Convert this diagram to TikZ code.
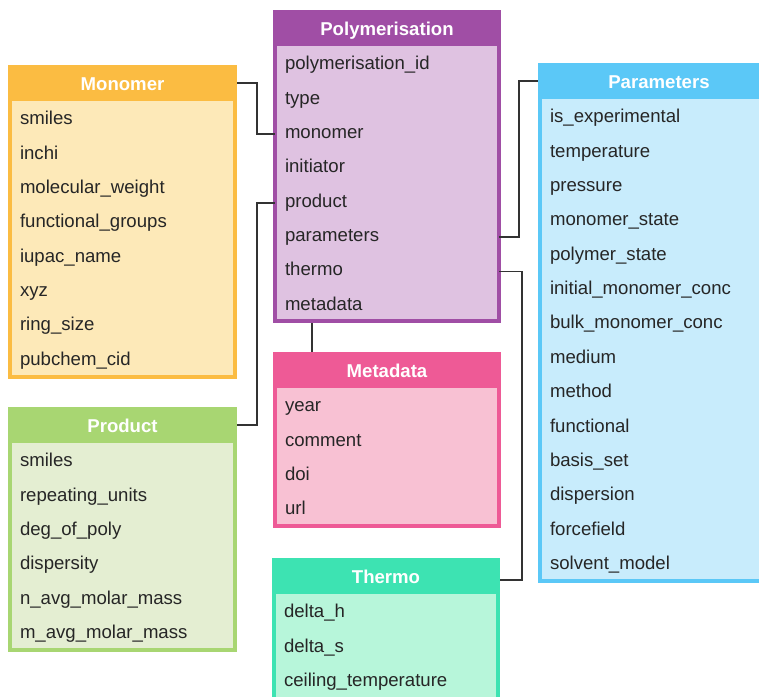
\documentclass[tikz,border=0pt]{standalone}
\usepackage{fontspec}
\setmainfont{Liberation Sans}
\usetikzlibrary{positioning}

\definecolor{monoC}{HTML}{FBBC42}
\definecolor{monoL}{HTML}{FDE9B8}
\definecolor{polyC}{HTML}{A04EA5}
\definecolor{polyL}{HTML}{DFC2E1}
\definecolor{parC}{HTML}{5BC8F7}
\definecolor{parL}{HTML}{C8ECFC}
\definecolor{prodC}{HTML}{A8D672}
\definecolor{prodL}{HTML}{E4EED2}
\definecolor{metaC}{HTML}{EE5A96}
\definecolor{metaL}{HTML}{F8C1D3}
\definecolor{thermoC}{HTML}{3DE3B2}
\definecolor{thermoL}{HTML}{B7F6DA}

\newcommand{\tabfont}{\fontsize{18.6}{22}\selectfont}

\tikzset{
  tbody/.style={draw=#1, line width=4pt, inner sep=0pt},
  thead/.style={draw=#1, fill=#1, line width=4pt, minimum height=32pt, inner sep=0pt,
    text height=14pt, text depth=0pt, text=white, font=\tabfont\bfseries},
  field/.style={anchor=north, inner xsep=10pt, inner ysep=0pt, minimum height=34.35pt,
    text height=13pt, text depth=4pt, align=left, text=black!85},
  link/.style={draw=black!80, line width=1.5pt}
}

\begin{document}
\begin{tikzpicture}[x=1pt,y=-1pt,font=\tabfont]
\clip (0,0) rectangle (759,696);
\fill[white] (0,0) rectangle (759,696);

% Polymerisation
\node[tbody=polyC, fill=polyL, minimum width=224pt, minimum height=309pt] (poly) at (387,166.5) {};
\node[thead=polyC, minimum width=224pt, anchor=north] (poly-h) at (poly.north) {Polymerisation};
\foreach \f [count=\i] in {polymerisation\_id, type, monomer, initiator, product, parameters, thermo, metadata}
  \node[field, text width=204pt] (poly-\i) at ([yshift={-2pt-34.35pt*(\i-1)}]poly-h.south) {\f};

% Monomer
\node[tbody=monoC, fill=monoL, minimum width=225pt, minimum height=310pt] (mono) at (122.5,222) {};
\node[thead=monoC, minimum width=225pt, anchor=north] (mono-h) at (mono.north) {Monomer};
\foreach \f [count=\i] in {smiles, inchi, molecular\_weight, functional\_groups, iupac\_name, xyz, ring\_size, pubchem\_cid}
  \node[field, text width=205pt] (mono-\i) at ([yshift={-2pt-34.35pt*(\i-1)}]mono-h.south) {\f};

% Parameters
\node[tbody=parC, fill=parL, minimum width=238pt, minimum height=516pt] (par) at (659,323) {};
\node[thead=parC, minimum width=238pt, anchor=north] (par-h) at (par.north) {Parameters};
\foreach \f [count=\i] in {is\_experimental, temperature, pressure, monomer\_state, polymer\_state,
    initial\_monomer\_conc, bulk\_monomer\_conc, medium, method, functional, basis\_set,
    dispersion, forcefield, solvent\_model}
  \node[field, text width=218pt] (par-\i) at ([yshift={-2pt-34.35pt*(\i-1)}]par-h.south) {\f};

% Product
\node[tbody=prodC, fill=prodL, minimum width=225pt, minimum height=241pt] (prod) at (122.5,529.5) {};
\node[thead=prodC, minimum width=225pt, anchor=north] (prod-h) at (prod.north) {Product};
\foreach \f [count=\i] in {smiles, repeating\_units, deg\_of\_poly, dispersity, n\_avg\_molar\_mass, m\_avg\_molar\_mass}
  \node[field, text width=205pt] (prod-\i) at ([yshift={-2pt-34.35pt*(\i-1)}]prod-h.south) {\f};

% Metadata
\node[tbody=metaC, fill=metaL, minimum width=224pt, minimum height=172pt] (meta) at (387,440) {};
\node[thead=metaC, minimum width=224pt, anchor=north] (meta-h) at (meta.north) {Metadata};
\foreach \f [count=\i] in {year, comment, doi, url}
  \node[field, text width=204pt] (meta-\i) at ([yshift={-2pt-34.35pt*(\i-1)}]meta-h.south) {\f};

% Thermo
\node[tbody=thermoC, fill=thermoL, minimum width=224pt, minimum height=140pt] (thermo) at (386,630) {};
\node[thead=thermoC, minimum width=224pt, anchor=north] (thermo-h) at (thermo.north) {Thermo};
\foreach \f [count=\i] in {delta\_h, delta\_s, ceiling\_temperature}
  \node[field, text width=204pt] (thermo-\i) at ([yshift={-2pt-34.35pt*(\i-1)}]thermo-h.south) {\f};

% links
\draw[link] (mono-h.east) -- ++(20,0) |- (poly-3.west);
\draw[link] (poly-5.west) -- ++(-18,0) |- (prod-h.east);
\draw[link] (poly-6.east) -- ++(20,0) |- (par-h.west);
\draw[link] (poly-7.east) -- ++(23,0) |- ([yshift=-4pt]thermo-h.east);
\draw[link] ([xshift=-75pt]poly.south) -- ([xshift=-75pt]meta-h.north);
\end{tikzpicture}
\end{document}
